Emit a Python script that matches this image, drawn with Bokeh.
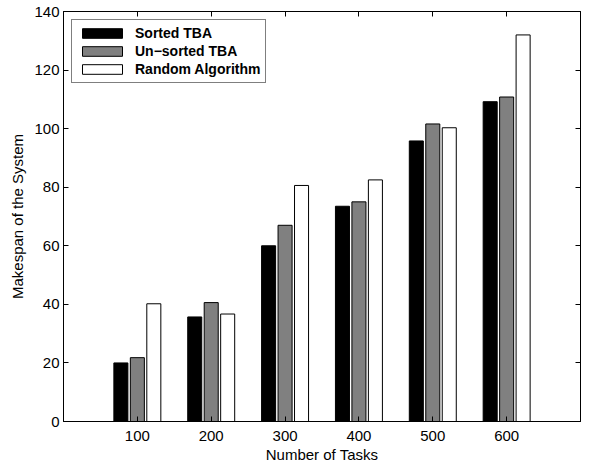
from bokeh.plotting import figure
from bokeh.models import (ColumnDataSource, Range1d, FixedTicker, LinearAxis, Legend,
                          LegendItem, CustomLabelingPolicy)
from bokeh.transform import dodge
from bokeh.embed import file_html
from bokeh.resources import INLINE

tasks = [100, 200, 300, 400, 500, 600]
sorted_tba = [20.0, 35.7, 60.0, 73.5, 95.8, 109.2]
unsorted_tba = [21.8, 40.6, 67.0, 75.0, 101.6, 110.8]
random_alg = [40.2, 36.7, 80.6, 82.5, 100.3, 132.0]
y_ticks = [0, 20, 40, 60, 80, 100, 120, 140]
series_labels = ["Sorted TBA", "Un\u2212sorted TBA", "Random Algorithm"]

src = ColumnDataSource(dict(x=tasks, s=sorted_tba, u=unsorted_tba, r=random_alg))

FONT = "Liberation Sans"

p = figure(frame_width=517, frame_height=410, output_backend="svg", toolbar_location=None,
           x_range=Range1d(0, 700), y_range=Range1d(0, 140),
           min_border_left=63, min_border_right=1, min_border_top=9, min_border_bottom=36)
p.xgrid.visible = False
p.ygrid.visible = False
p.outline_line_color = "black"
p.outline_line_width = 1
p.outline_line_alpha = 1.0
p.background_fill_color = "white"
p.border_fill_color = "white"

bw = 19
r1 = p.vbar(x=dodge('x', -22.3, range=p.x_range), top='s', width=bw, source=src,
            fill_color="black", line_color="black", line_width=1)
r2 = p.vbar(x=dodge('x', 0, range=p.x_range), top='u', width=bw, source=src,
            fill_color="#808080", line_color="black", line_width=1)
r3 = p.vbar(x=dodge('x', 22.3, range=p.x_range), top='r', width=bw, source=src,
            fill_color="white", line_color="black", line_width=1)

for ax in (p.xaxis[0], p.yaxis[0]):
    ax.major_tick_in = 5
    ax.major_tick_out = 0
    ax.minor_tick_line_color = None
    ax.axis_line_color = "black"
    ax.major_tick_line_color = "black"
    ax.major_label_text_font = FONT
    ax.major_label_text_font_size = "15px"
    ax.major_label_text_color = "black"
    ax.axis_label_text_font = FONT
    ax.axis_label_text_font_size = "15px"
    ax.axis_label_text_font_style = "normal"
    ax.axis_label_text_color = "black"

p.xaxis.ticker = FixedTicker(ticks=tasks)
p.yaxis.ticker = FixedTicker(ticks=y_ticks)
p.xaxis.axis_label = "Number of Tasks"
p.yaxis.axis_label = "Makespan of the System"
p.xaxis.axis_label_standoff = 2
p.yaxis.axis_label_standoff = 5
p.xaxis.major_label_standoff = 9
p.yaxis.major_label_standoff = 4

no_labels = "for (const i of indices) indices.unset(i); return indices"
top_ax = LinearAxis(ticker=FixedTicker(ticks=tasks), major_tick_in=5, major_tick_out=0,
                    minor_tick_line_color=None, major_label_policy=CustomLabelingPolicy(code=no_labels),
                    major_label_standoff=0, axis_line_color="black")
right_ax = LinearAxis(ticker=FixedTicker(ticks=y_ticks), major_tick_in=5, major_tick_out=0,
                      minor_tick_line_color=None, major_label_policy=CustomLabelingPolicy(code=no_labels),
                      major_label_standoff=0, axis_line_color="black")
p.add_layout(top_ax, "above")
p.add_layout(right_ax, "right")

legend = Legend(items=[
    LegendItem(label=series_labels[0], renderers=[r1]),
    LegendItem(label=series_labels[1], renderers=[r2]),
    LegendItem(label=series_labels[2], renderers=[r3]),
], location="top_left")
legend.label_text_font = FONT
legend.label_text_font_size = "14px"
legend.label_text_font_style = "bold"
legend.label_text_color = "black"
legend.border_line_color = "black"
legend.border_line_width = 1
legend.glyph_width = 50
legend.glyph_height = 12
legend.label_height = 13
legend.spacing = 2
legend.padding = 5
legend.margin = 8
legend.label_standoff = 8
legend.background_fill_alpha = 1.0
p.add_layout(legend)

open("out.html", "w").write(file_html(p, INLINE))
